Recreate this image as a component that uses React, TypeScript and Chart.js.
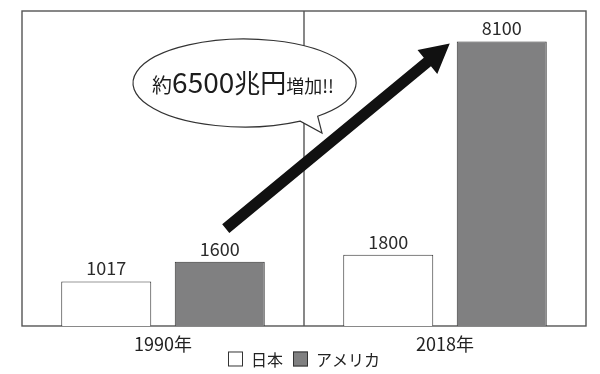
import { useEffect, useRef } from 'react';
import { Chart, registerables } from 'chart.js';

Chart.register(...registerables);

// Data
const years = ['1990年', '2018年'];
const seriesNames = ['日本', 'アメリカ'];
const japanValues = [1017, 1800];
const usaValues = [1600, 8100];
const calloutText: [string, number][] = [
  ['約', 20],
  ['6500', 28],
  ['兆円', 26],
  ['増加!!', 18],
];

const FONT = "'Noto Sans CJK JP', 'Noto Sans', sans-serif";
const Y_MIN = -300;
const Y_MAX = 9000;

// Outer frame and the divider between the two year groups
const framePlugin = {
  id: 'frame',
  beforeDatasetsDraw(chart: any) {
    const { ctx, chartArea } = chart;
    const { left, top, right, bottom } = chartArea;
    const xs = chart.scales.x;
    const mid = (xs.getPixelForTick(0) + xs.getPixelForTick(1)) / 2;
    ctx.save();
    ctx.strokeStyle = '#555';
    ctx.lineWidth = 1.4;
    ctx.strokeRect(left, top, right - left, bottom - top);
    ctx.beginPath();
    ctx.moveTo(mid, top);
    ctx.lineTo(mid, bottom);
    ctx.stroke();
    ctx.restore();
  },
};

// Value written above each bar
const valueLabelPlugin = {
  id: 'valueLabels',
  afterDatasetsDraw(chart: any) {
    const { ctx } = chart;
    ctx.save();
    ctx.font = `18px ${FONT}`;
    ctx.fillStyle = '#2a2a2a';
    ctx.textAlign = 'center';
    ctx.textBaseline = 'alphabetic';
    chart.data.datasets.forEach((ds: any, i: number) => {
      const meta = chart.getDatasetMeta(i);
      meta.data.forEach((el: any, j: number) => {
        ctx.fillText(String(ds.data[j]), el.x, el.y - 6);
      });
    });
    ctx.restore();
  },
};

// Series key under the year labels
const keyPlugin = {
  id: 'seriesKey',
  afterDraw(chart: any) {
    const { ctx, chartArea } = chart;
    const box = 15;
    const gapText = 8;
    const gapItem = 10;
    ctx.save();
    ctx.font = `16px ${FONT}`;
    const items = chart.data.datasets.map((ds: any) => ({
      text: ds.label,
      fill: ds.backgroundColor,
      stroke: ds.borderColor,
      w: ctx.measureText(ds.label).width,
    }));
    const total =
      items.reduce((s: number, it: any) => s + box + gapText + it.w, 0) +
      gapItem * (items.length - 1);
    let x = (chartArea.left + chartArea.right) / 2 - total / 2;
    const cy = chartArea.bottom + 33;
    ctx.textBaseline = 'middle';
    ctx.textAlign = 'left';
    items.forEach((it: any) => {
      ctx.fillStyle = it.fill;
      ctx.fillRect(x, cy - box / 2, box, box);
      ctx.strokeStyle = it.stroke;
      ctx.lineWidth = 1;
      ctx.strokeRect(x + 0.5, cy - box / 2 + 0.5, box - 1, box - 1);
      ctx.fillStyle = '#222';
      ctx.fillText(it.text, x + box + gapText, cy + 1);
      x += box + gapText + it.w + gapItem;
    });
    ctx.restore();
  },
};

// Speech bubble and the rising arrow
const annotationPlugin = {
  id: 'annotations',
  afterDraw(chart: any) {
    const { ctx, chartArea } = chart;
    const usaMeta = chart.getDatasetMeta(1);
    const bar1990 = usaMeta.data[0];
    const bar2018 = usaMeta.data[1];

    ctx.save();

    // bubble
    const cx = chartArea.left + 222.5;
    const cy = chartArea.top + 72;
    const rx = 111.5;
    const ry = 44;
    const a1 = (60 * Math.PI) / 180;
    const a2 = (49 * Math.PI) / 180;
    const tipX = cx + 77.5;
    const tipY = cy + 50;
    ctx.beginPath();
    ctx.ellipse(cx, cy, rx, ry, 0, a1, a2 + Math.PI * 2, false);
    ctx.lineTo(tipX, tipY);
    ctx.closePath();
    ctx.fillStyle = '#fff';
    ctx.fill();
    ctx.strokeStyle = '#333';
    ctx.lineWidth = 1.2;
    ctx.stroke();

    // bubble text
    ctx.fillStyle = '#1c1c1c';
    ctx.textBaseline = 'alphabetic';
    ctx.textAlign = 'left';
    const widths = calloutText.map(([t, s]) => {
      ctx.font = `${s}px ${FONT}`;
      return ctx.measureText(t).width;
    });
    const total = widths.reduce((a, b) => a + b, 0);
    let x = cx - 1.5 - total / 2;
    const baseY = cy + 10;
    calloutText.forEach(([t, s], i) => {
      ctx.font = `${s}px ${FONT}`;
      ctx.fillText(t, x, baseY);
      x += widths[i];
    });

    // arrow
    const tx = bar1990.x + 6;
    const ty = bar1990.y - 33;
    const px = bar2018.x - bar2018.width / 2 - 7;
    const py = bar2018.y + 2;
    const dx = px - tx;
    const dy = py - ty;
    const len = Math.hypot(dx, dy);
    const ux = dx / len;
    const uy = dy / len;
    const nx = -uy;
    const ny = ux;
    const shaft = 5.6;
    const headLen = 29;
    const headHalf = 15.5;
    const bx = px - ux * headLen;
    const by = py - uy * headLen;
    ctx.beginPath();
    ctx.moveTo(tx + nx * shaft, ty + ny * shaft);
    ctx.lineTo(bx + nx * shaft, by + ny * shaft);
    ctx.lineTo(bx + nx * headHalf, by + ny * headHalf);
    ctx.lineTo(px, py);
    ctx.lineTo(bx - nx * headHalf, by - ny * headHalf);
    ctx.lineTo(bx - nx * shaft, by - ny * shaft);
    ctx.lineTo(tx - nx * shaft, ty - ny * shaft);
    ctx.closePath();
    ctx.fillStyle = '#111';
    ctx.fill();

    ctx.restore();
  },
};

export default function App() {
  const canvasRef = useRef<HTMLCanvasElement>(null);

  useEffect(() => {
    if (!canvasRef.current) return;
    Chart.defaults.font.family = FONT;
    const chart = new Chart(canvasRef.current, {
      type: 'bar',
      data: {
        labels: years,
        datasets: [
          {
            label: seriesNames[0],
            data: japanValues,
            backgroundColor: '#ffffff',
            borderColor: '#333',
            borderWidth: 1,
            base: Y_MIN,
          },
          {
            label: seriesNames[1],
            data: usaValues,
            backgroundColor: '#808081',
            borderColor: '#333',
            borderWidth: 1,
            base: Y_MIN,
          },
        ],
      },
      options: {
        responsive: false,
        animation: false,
        categoryPercentage: 0.805,
        barPercentage: 0.793,
        layout: { padding: { left: 22, right: 14, top: 11, bottom: 12 } },
        scales: {
          x: {
            grid: { display: false, drawTicks: false },
            border: { display: false },
            ticks: {
              color: '#222',
              padding: 13,
              font: { size: 18, family: FONT, lineHeight: 0.556 },
            },
          },
          y: { display: false, min: Y_MIN, max: Y_MAX },
        },
        plugins: {
          tooltip: { enabled: false },
          legend: { display: false },
        },
      },
      plugins: [framePlugin, valueLabelPlugin, annotationPlugin, keyPlugin],
    } as any);
    return () => chart.destroy();
  }, []);

  return (
    <div style={{ position: 'absolute', left: 0, top: 0, width: 600, height: 374, background: '#fff' }}>
      <canvas ref={canvasRef} width={600} height={374} />
    </div>
  );
}
